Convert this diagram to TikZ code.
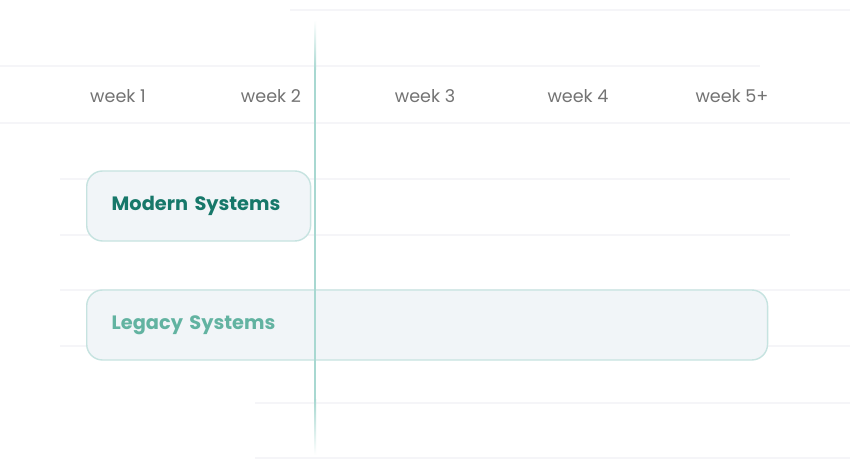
\documentclass[tikz,border=0pt]{standalone}
\usepackage{fontspec}
\setmainfont{Poppins}
\usetikzlibrary{positioning}

\definecolor{gridline}{HTML}{F5F5F8}
\definecolor{nowline}{HTML}{A8D8D1}
\definecolor{barfill}{HTML}{F1F5F8}
\definecolor{bardraw}{HTML}{C6E3E0}
\definecolor{modern}{HTML}{17786A}
\definecolor{legacy}{HTML}{62B3A1}
\definecolor{weektext}{HTML}{737373}

\tikzset{
  week/.style={text=weektext,font=\fontsize{10}{12}\selectfont},
  bar/.style={draw=bardraw,fill=barfill,line width=0.8pt,rounded corners=9pt,
    minimum height=1.4cm,inner xsep=0.5cm,align=left,anchor=west,
    font=\fontsize{11}{13}\selectfont\bfseries}
}

\begin{document}
\begin{tikzpicture}[x=0.02cm,y=-0.02cm]
\useasboundingbox (0,0) rectangle (850,472);
\fill[white] (0,0) rectangle (850,472);
% faint grid
\foreach \y/\a/\b in {10/290/850,66/0/760,123/0/850,179/60/790,235/60/790,290/60/850,346/60/850,403/255/850,458/255/850}
  \draw[gridline,line width=0.8pt] (\a,\y) -- (\b,\y);
% week labels
\node[week] (w1) at (118,96) {week 1};
\node[week] (w2) at (271,96) {week 2};
\node[week] (w3) at (425,96) {week 3};
\node[week] (w4) at (578,96) {week 4};
\node[week] (w5) at (732,96) {week 5+};
% bars
\node[bar,text=modern,text width=3.48cm] (modern) at (86,206) {\raisebox{-2pt}{Modern Systems}};
\node[bar,text=legacy,text width=12.62cm] (legacy) at (86,325) {\raisebox{-2pt}{Legacy Systems}};
% now line
\shade[top color=white,bottom color=nowline] (314,20) rectangle (316,70);
\fill[nowline] (314,70) rectangle (316,400);
\shade[top color=nowline,bottom color=white] (314,400) rectangle (316,455);
\end{tikzpicture}
\end{document}
